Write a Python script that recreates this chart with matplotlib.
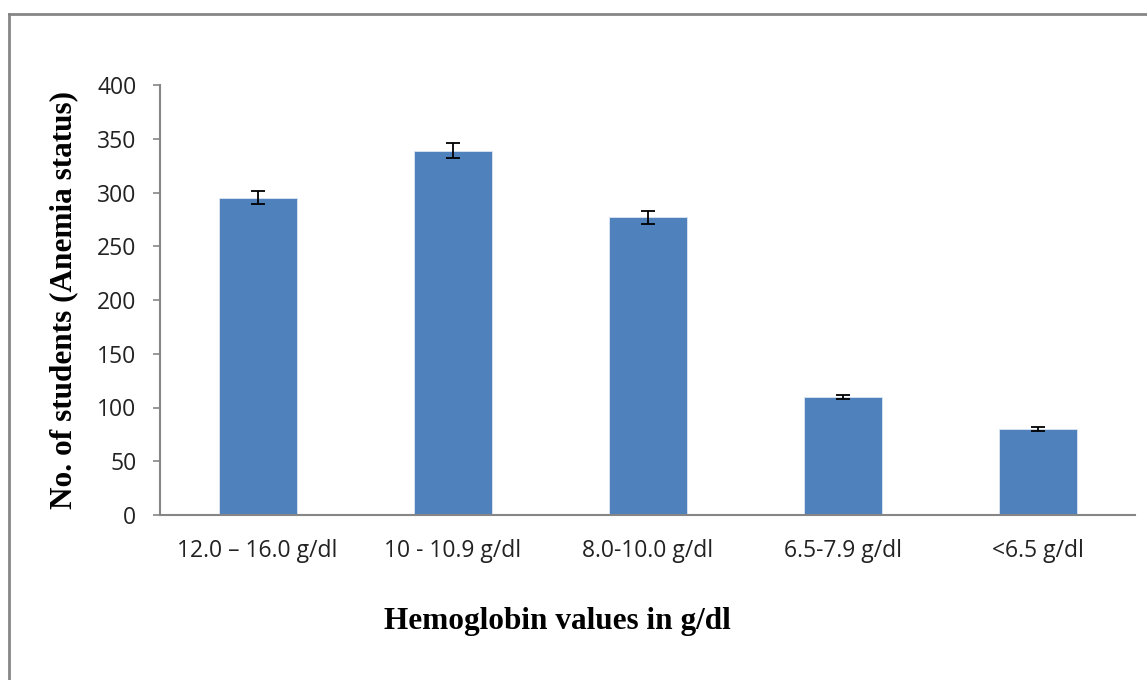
import matplotlib
matplotlib.use('Agg')
import matplotlib.pyplot as plt
from matplotlib.lines import Line2D
import numpy as np

categories = ['12.0 \u2013 16.0 g/dl', '10 - 10.9 g/dl', '8.0-10.0 g/dl', '6.5-7.9 g/dl', '<6.5 g/dl']
counts = [295, 339, 277, 110, 80]
errors = [6, 7, 6, 2, 2]
y_ticks = [0, 50, 100, 150, 200, 250, 300, 350, 400]

BAR_COLOR = '#4f81bd'
AXIS_COLOR = '#868686'

fig = plt.figure(figsize=(11.47, 6.8), dpi=100)
ax = fig.add_axes([160 / 1147, 165 / 680, 975 / 1147, 430 / 680])

x = np.arange(len(categories))
ax.bar(x, counts, width=0.4, color=BAR_COLOR, edgecolor='#dce6f2', linewidth=0.6, zorder=2)
ax.errorbar(x, counts, yerr=errors, fmt='none', ecolor='black', elinewidth=1.3,
            capsize=5, capthick=1.3, zorder=3)

ax.set_xlim(-0.5, len(categories) - 0.5)
ax.set_ylim(0, 400)
ax.set_yticks(y_ticks)
ax.set_xticks(x)
ax.set_xticklabels(categories, fontsize=16.5, family='Open Sans', color='#222222')
ax.set_yticklabels([str(v) for v in y_ticks], fontsize=16.5, family='Open Sans', color='#222222')

for side in ['top', 'right']:
    ax.spines[side].set_visible(False)
for side in ['left', 'bottom']:
    ax.spines[side].set_color(AXIS_COLOR)
    ax.spines[side].set_linewidth(1.5)
ax.tick_params(axis='y', direction='out', length=5, width=1.2, color=AXIS_COLOR, pad=12)
ax.tick_params(axis='x', length=0, pad=17)

fig.text(64 / 1147, 1 - 300 / 680, 'No. of students (Anemia status)', fontsize=22.5,
         fontweight='bold', family='Liberation Serif', rotation=90,
         ha='center', va='center')
fig.text(557 / 1147, 1 - 622 / 680, 'Hemoglobin values in g/dl', fontsize=22.5,
         fontweight='bold', family='Liberation Serif', ha='center', va='center')

# outer chart frame (only top and left edges visible)
fig.add_artist(Line2D([9 / 1147, 9 / 1147], [0, 1 - 14 / 680], transform=fig.transFigure,
                      color=AXIS_COLOR, linewidth=2))
fig.add_artist(Line2D([9 / 1147, 1], [1 - 14 / 680, 1 - 14 / 680], transform=fig.transFigure,
                      color=AXIS_COLOR, linewidth=2))

fig.savefig('out.png', dpi=100)
